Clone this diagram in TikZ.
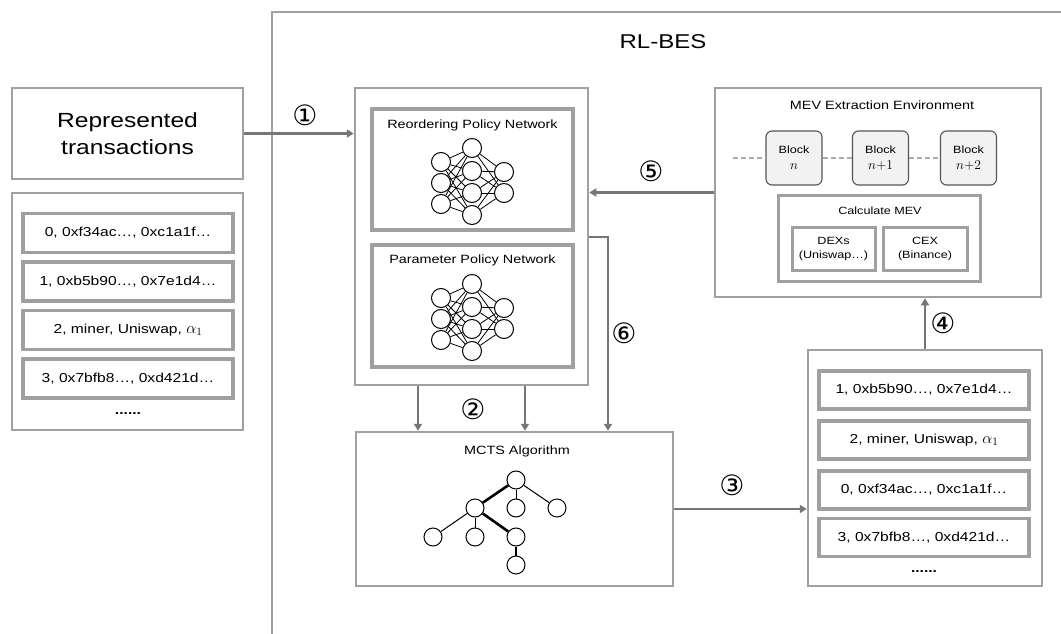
\documentclass[tikz,border=0pt]{standalone}
\usepackage{fontspec}
\usepackage{fix-cm}
\setmainfont{Liberation Sans}[FakeStretch=1.2]
\newfontfamily\circfont{DejaVu Sans}
\usetikzlibrary{arrows.meta}
\definecolor{boxgray}{RGB}{160,160,160}
\definecolor{arrgray}{RGB}{118,118,118}
\definecolor{blockfill}{RGB}{242,242,242}
\definecolor{blockdraw}{RGB}{85,85,85}
\definecolor{dashgray}{RGB}{170,170,170}
\newcommand{\alphaone}{{\fontsize{16}{16}\selectfont$\alpha_1$}}
\newcommand{\bigmath}[1]{{\fontsize{13.5}{16}\selectfont$#1$}}
\begin{document}
\begin{tikzpicture}[x=1pt,y=-1pt,
  outerbox/.style={draw=boxgray, line width=2.5pt, fill=white, inner sep=0pt},
  innerbox/.style={draw=boxgray, line width=3.5pt, inner sep=0pt},
  itembox/.style={draw=boxgray, line width=3.5pt, minimum width=210pt, minimum height=39pt, inner sep=0pt, font=\fontsize{13}{15}\selectfont},
  title/.style={inner sep=0pt, font=\fontsize{12}{14}\selectfont},
  small/.style={inner sep=0pt, align=center, font=\fontsize{10.5}{14}\selectfont},
  blockbox/.style={draw=blockdraw, fill=blockfill, line width=1.1pt, rounded corners=6pt, minimum width=56pt, minimum height=54pt, inner sep=0pt, align=center, font=\fontsize{10.5}{16}\selectfont},
  conn/.style={draw=arrgray, line width=2.7pt, -{Triangle[length=7pt,width=8pt]}},
  dashconn/.style={draw=dashgray, line width=1.5pt, dash pattern=on 5pt off 3pt},
  num/.style={inner sep=0pt, font=\circfont\fontsize{28}{30}\selectfont},
  nn/.style={circle, draw=black, fill=white, line width=1pt, minimum size=19pt, inner sep=0pt},
  nnedge/.style={draw=black, line width=0.8pt},
  tn/.style={circle, draw=black, fill=white, line width=1pt, minimum size=18pt, inner sep=0pt},
  tedge/.style={draw=black, line width=1pt},
  tthick/.style={draw=black, line width=2.6pt},
  dots/.style={inner sep=0pt, font=\fontsize{13}{15}\selectfont\bfseries}
]
\useasboundingbox (0,0) rectangle (1061,634);
\fill[white] (0,0) rectangle (1061,634);

% RL-BES frame
\draw[draw=boxgray, line width=2.5pt] (272,634) -- (272,12) -- (1061,12);
\node[inner sep=0pt, font=\fontsize{20}{24}\selectfont] (rlbes) at (663,42) {RL-BES};

% left side
\node[outerbox, minimum width=231pt, minimum height=91pt, align=center, font=\fontsize{20.5}{27}\selectfont] (rep) at (127.5,133.5) {Represented\\transactions};
\node[outerbox, minimum width=231pt, minimum height=237pt] (listL) at (127.5,311.5) {};
\node[itembox] (l0) at (128,233) {0, 0xf34ac…, 0xc1a1f…};
\node[itembox] (l1) at (128,281.5) {1, 0xb5b90…, 0x7e1d4…};
\node[itembox] (l2) at (128,330) {2, miner, Uniswap, \alphaone};
\node[itembox] (l3) at (128,378.5) {3, 0x7bfb8…, 0xd421d…};
\node[dots] (ldots) at (128,414) {......};

% policy networks
\node[outerbox, minimum width=233pt, minimum height=297pt] (policy) at (471.5,236.5) {};
\node[innerbox, minimum width=201pt, minimum height=121pt] (reorder) at (472.5,169.5) {};
\node[innerbox, minimum width=201pt, minimum height=122pt] (param) at (472.5,306) {};
\node[title] (reordert) at (472.5,125) {Reordering Policy Network};
\node[title] (paramt) at (472.5,260) {Parameter Policy Network};
\foreach \net/\dy in {r/0,p/136}{
  \foreach \k/\yy in {1/162,2/183,3/204} \node[nn] (\net-i\k) at (441,\yy+\dy) {};
  \foreach \k/\yy in {1/148,2/171,3/193,4/215} \node[nn] (\net-h\k) at (472,\yy+\dy) {};
  \foreach \k/\yy in {1/172,2/193} \node[nn] (\net-o\k) at (504,\yy+\dy) {};
  \foreach \a in {1,2,3} \foreach \b in {1,2,3,4} \draw[nnedge] (\net-i\a) -- (\net-h\b);
  \foreach \b in {1,2,3,4} \foreach \c in {1,2} \draw[nnedge] (\net-h\b) -- (\net-o\c);
}

% MEV environment
\node[outerbox, minimum width=326pt, minimum height=209pt] (mev) at (878,192.5) {};
\node[title] (mevt) at (882,105) {MEV Extraction Environment};
\node[blockbox] (b0) at (794,158) {Block\\\bigmath{n}};
\node[blockbox] (b1) at (880.5,158) {Block\\\bigmath{n{+}1}};
\node[blockbox] (b2) at (968.5,158) {Block\\\bigmath{n{+}2}};
\coordinate (bstart) at (733,158);
\draw[dashconn] (bstart) -- (b0.west);
\draw[dashconn] (b0.east) -- (b1.west);
\draw[dashconn] (b1.east) -- (b2.west);
\node[innerbox, line width=3pt, minimum width=202pt, minimum height=86pt] (calc) at (879,238) {};
\node[small] (calct) at (880,211) {Calculate MEV};
\node[innerbox, line width=3pt, minimum width=83pt, minimum height=43pt, small] (dex) at (833.5,248.5) {DEXs\\(Uniswap…)};
\node[innerbox, line width=3pt, minimum width=84pt, minimum height=43pt, small] (cex) at (925,248.5) {CEX\\(Binance)};

% MCTS
\node[outerbox, minimum width=317pt, minimum height=154pt] (mcts) at (514.5,509) {};
\node[title] (mctst) at (517,451) {MCTS Algorithm};
\node[tn] (t0) at (516,480) {};
\node[tn] (ta) at (475,508) {};
\node[tn] (tb) at (516,508) {};
\node[tn] (tc) at (557,508) {};
\node[tn] (td) at (433,537) {};
\node[tn] (te) at (475,537) {};
\node[tn] (tf) at (516,537) {};
\node[tn] (tg) at (516,565) {};
\draw[tthick] (t0) -- (ta);
\draw[tedge] (t0) -- (tb);
\draw[tedge] (t0) -- (tc);
\draw[tedge] (ta) -- (td);
\draw[tedge] (ta) -- (te);
\draw[tthick] (ta) -- (tf);
\draw[tthick] (tf) -- (tg);

% right list
\node[outerbox, minimum width=234pt, minimum height=236pt] (listR) at (925,468) {};
\node[itembox, minimum height=38pt] (r1) at (924,390) {1, 0xb5b90…, 0x7e1d4…};
\node[itembox, minimum height=38pt] (r2) at (924,440) {2, miner, Uniswap, \alphaone};
\node[itembox, minimum height=38pt] (r0) at (924,490) {0, 0xf34ac…, 0xc1a1f…};
\node[itembox, minimum height=38pt] (r3) at (924,537.5) {3, 0x7bfb8…, 0xd421d…};
\node[dots] (rdots) at (924,572) {......};

% connectors
\draw[conn] (rep.east) -- (rep.east -| policy.west);
\node[num] (n1) at (305,115) {①};
\draw[conn] (mev.west) -- (mev.west -| policy.east);
\node[num] (n5) at (651,171) {⑤};
\coordinate (c6) at (608,237);
\draw[conn] (c6 -| policy.east) -- (c6) -- (c6 |- mcts.north);
\node[num] (n6) at (624,333) {⑥};
\coordinate (c2a) at (418,0);
\coordinate (c2b) at (525,0);
\draw[conn] (c2a |- policy.south) -- (c2a |- mcts.north);
\draw[conn] (c2b |- policy.south) -- (c2b |- mcts.north);
\node[num] (n2) at (473,409) {②};
\draw[conn] (mcts.east) -- (mcts.east -| listR.west);
\node[num] (n3) at (732,485) {③};
\draw[conn] (listR.north) -- (listR.north |- mev.south);
\node[num] (n4) at (943,323) {④};
\end{tikzpicture}
\end{document}
